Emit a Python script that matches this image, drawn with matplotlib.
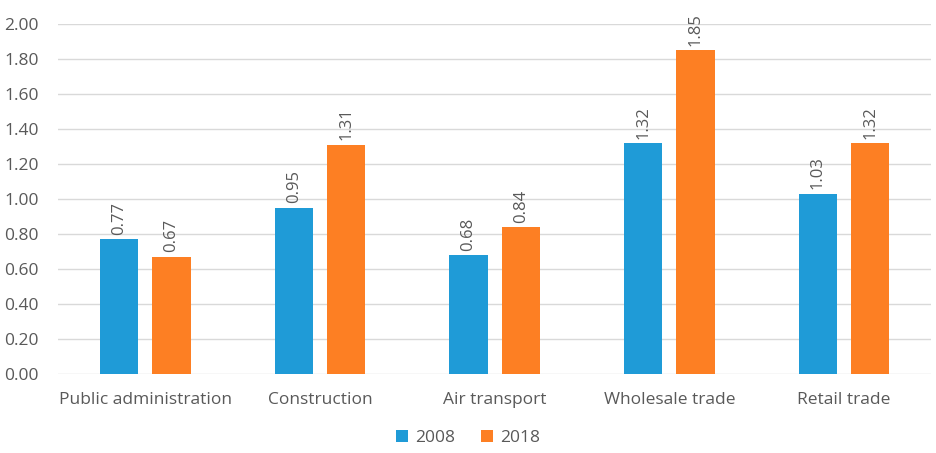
import numpy as np
import matplotlib.pyplot as plt

categories = ['Public administration', 'Construction', 'Air transport', 'Wholesale trade', 'Retail trade']
values_2008 = [0.77, 0.95, 0.68, 1.32, 1.03]
values_2018 = [0.67, 1.31, 0.84, 1.85, 1.32]

plt.rcParams['font.family'] = ['Open Sans', 'DejaVu Sans']
text_grey = '#595959'

fig = plt.figure(figsize=(9.36, 4.53), dpi=100)
ax = fig.add_axes([0.062, 0.174, 0.933, 0.773])

x = np.arange(len(categories))
w = 0.22
b1 = ax.bar(x - 0.15, values_2008, w, color='#1F9BD7', label='2008', zorder=3)
b2 = ax.bar(x + 0.15, values_2018, w, color='#FD7F23', label='2018', zorder=3)

for bars, vals in ((b1, values_2008), (b2, values_2018)):
    for bar, v in zip(bars, vals):
        ax.text(bar.get_x() + bar.get_width() / 2, v + 0.025, f'{v:.2f}',
                rotation=90, ha='center', va='bottom', fontsize=12, color=text_grey)

ax.set_ylim(0, 2.0)
ax.set_xlim(-0.5, len(categories) - 0.5)
ax.set_yticks(np.arange(0, 2.01, 0.2))
ax.set_yticklabels([f'{t:.2f}' for t in np.arange(0, 2.01, 0.2)])
ax.set_xticks(x)
ax.set_xticklabels(categories)
ax.tick_params(axis='both', length=0, labelsize=12.5, colors=text_grey)
ax.tick_params(axis='x', pad=13)
ax.tick_params(axis='y', pad=14)
ax.yaxis.grid(True, color='#D9D9D9', linewidth=1, zorder=0)
for s in ax.spines.values():
    s.set_visible(False)

leg = fig.legend(handles=[b1, b2], loc='lower center', bbox_to_anchor=(0.5, -0.02),
                 ncol=2, frameon=False, fontsize=12.5, handlelength=0.7, handleheight=0.7,
                 handletextpad=0.4, columnspacing=1.5)
for t in leg.get_texts():
    t.set_color(text_grey)

fig.savefig('out.png', dpi=100)
